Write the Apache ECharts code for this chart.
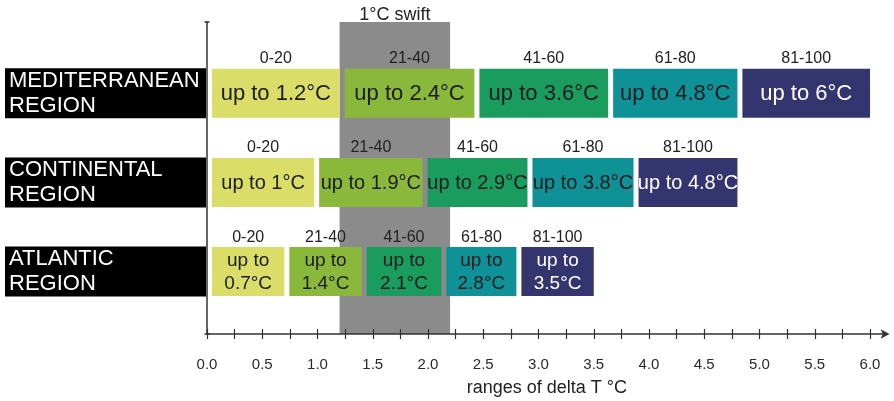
<!DOCTYPE html>
<html><head><meta charset="utf-8">
<script src="https://cdn.jsdelivr.net/npm/echarts@6/dist/echarts.min.js"></script>
<style>html,body{margin:0;padding:0;background:#fff}#c{width:894px;height:401px}</style>
</head><body><div id="c"></div>
<script>
// ---- data ----
const regions = ['MEDITERRANEAN\nREGION', 'CONTINENTAL\nREGION', 'ATLANTIC\nREGION'];
const percentileRanges = ['0-20', '21-40', '41-60', '61-80', '81-100'];
const mediterraneanUpTo = [1.2, 2.4, 3.6, 4.8, 6];
const continentalUpTo = [1, 1.9, 2.9, 3.8, 4.8];
const atlanticUpTo = [0.7, 1.4, 2.1, 2.8, 3.5];
// right edges of the boxes as drawn in the figure (°C)
const mediterraneanEdges = [1.2, 2.42, 3.63, 4.8, 6.0];
const continentalEdges = [0.97, 1.95, 2.9, 3.86, 4.8];
const atlanticEdges = [0.7, 1.4, 2.12, 2.8, 3.5];
const swiftBand = [1.2, 2.2];
const swiftLabel = '1°C swift';
const xTickLabels = [0, 0.5, 1, 1.5, 2, 2.5, 3, 3.5, 4, 4.5, 5, 5.5, 6];
const xTicks = [0, 0.25, 0.5, 0.75, 1, 1.25, 1.5, 1.75, 2, 2.25, 2.5, 2.75, 3, 3.25, 3.5, 3.75, 4, 4.25, 4.5, 4.75, 5, 5.25, 5.5, 5.75, 6];
const xAxisName = 'ranges of delta T °C';

// ---- styles ----
const colors = ['#dadd68', '#8ab83b', '#199c5d', '#0f9297', '#34356e'];
const textColors = ['#1c1c1c', '#1c1c1c', '#1c1c1c', '#1c1c1c', '#ffffff'];
const FONT = 'Liberation Sans, Arial, sans-serif';
const rowFont = [22, 20, 19];

const upTo = [mediterraneanUpTo, continentalUpTo, atlanticUpTo];
const edges = [mediterraneanEdges, continentalEdges, atlanticEdges];
const barData = [];
edges.forEach((row, r) => {
  row.forEach((hi, k) => {
    const lo = k === 0 ? 0 : row[k - 1];
    barData.push([r, lo, hi, upTo[r][k], k]);
  });
});

function renderBar(params, api) {
  const r = api.value(0), lo = api.value(1), hi = api.value(2), v = api.value(3), k = api.value(4);
  const p0 = api.coord([lo, r]), p1 = api.coord([hi, r]);
  const h = 49, gap = 5;
  const x = p0[0] + gap, w = p1[0] - x;
  const y = p0[1] - h / 2;
  const text = r === 2 ? 'up to\n' + v + '°C' : 'up to ' + v + '°C';
  return {
    type: 'group',
    children: [
      { type: 'rect', shape: { x: x, y: y, width: w, height: h }, style: { fill: colors[k] } },
      { type: 'text', style: { text: text, x: x + w / 2, y: p0[1] + 1, align: 'center', verticalAlign: 'middle',
          fill: textColors[k], fontSize: rowFont[r], fontFamily: FONT, lineHeight: 23 } },
      { type: 'text', style: { text: percentileRanges[k], x: x + w / 2, y: y - 10, align: 'center', verticalAlign: 'middle',
          fill: '#222', fontSize: 16, fontFamily: FONT } }
    ]
  };
}

function renderRegion(params, api) {
  const r = api.value(1);
  const p = api.coord([0, r]);
  const h = 50;
  return {
    type: 'group',
    children: [
      { type: 'rect', shape: { x: 5, y: p[1] - h / 2, width: p[0] - 6, height: h }, style: { fill: '#000' } },
      { type: 'text', style: { text: regions[r], x: 9, y: p[1], align: 'left', verticalAlign: 'middle',
          fill: '#fff', fontSize: 22, fontFamily: FONT, lineHeight: 25 } }
    ]
  };
}

function renderBand(params, api) {
  const cs = params.coordSys;
  const a = api.coord([api.value(0), 0]), b = api.coord([api.value(1), 0]);
  return {
    type: 'group',
    children: [
      { type: 'rect', shape: { x: a[0], y: cs.y, width: b[0] - a[0], height: cs.height }, style: { fill: '#8b8b8b' } },
      { type: 'text', style: { text: swiftLabel, x: (a[0] + b[0]) / 2, y: cs.y - 7, align: 'center', verticalAlign: 'middle',
          fill: '#222', fontSize: 18, fontFamily: FONT } }
    ]
  };
}

const xCommon = { type: 'value', min: 0, max: 6.15, position: 'bottom', splitLine: { show: false }, z: 10 };

const chart = echarts.init(document.getElementById('c'), null, { renderer: 'canvas' });
chart.setOption({
  animation: false,
  backgroundColor: '#fff',
  grid: { left: 207, top: 22, bottom: 67, right: 7.4, containLabel: false, outerBoundsMode: 'none' },
  xAxis: [
    Object.assign({}, xCommon, {
      axisLine: { show: true, onZero: false, lineStyle: { color: '#333', width: 1.5 }, symbol: ['none', 'arrow'], symbolSize: [7, 9], symbolOffset: [0, 3] },
      axisTick: { show: true, length: 5, lineStyle: { color: '#333', width: 1.2 }, customValues: xTicks },
      axisLabel: { show: true, customValues: xTickLabels, margin: 23, fontSize: 15, color: '#2a2a2a', fontFamily: FONT,
        formatter: v => v.toFixed(1) },
      name: xAxisName, nameLocation: 'middle', nameGap: 45,
      nameTextStyle: { fontSize: 18, color: '#222', fontFamily: FONT }
    }),
    Object.assign({}, xCommon, {
      axisLine: { show: false, onZero: false },
      axisTick: { show: true, inside: true, length: 5, lineStyle: { color: '#333', width: 1.2 }, customValues: xTicks },
      axisLabel: { show: false }
    })
  ],
  yAxis: {
    type: 'value', min: -0.8, max: 2.7, inverse: true, z: 10,
    axisLine: { show: true, onZero: false, lineStyle: { color: '#333', width: 1.5 }, symbol: ['rect', 'rect'], symbolSize: [5, 1.5] },
    axisTick: { show: false }, axisLabel: { show: false }, splitLine: { show: false }
  },
  series: [
    { type: 'custom', z: 1, clip: false, renderItem: renderBand, data: [swiftBand], encode: { x: [0, 1] } },
    { type: 'custom', z: 3, clip: false, renderItem: renderRegion, data: regions.map((_, i) => [0, i]), encode: { x: 0, y: 1 } },
    { type: 'custom', z: 3, clip: false, renderItem: renderBar, data: barData, encode: { x: [1, 2], y: 0 } }
  ]
});
</script>
</body></html>
